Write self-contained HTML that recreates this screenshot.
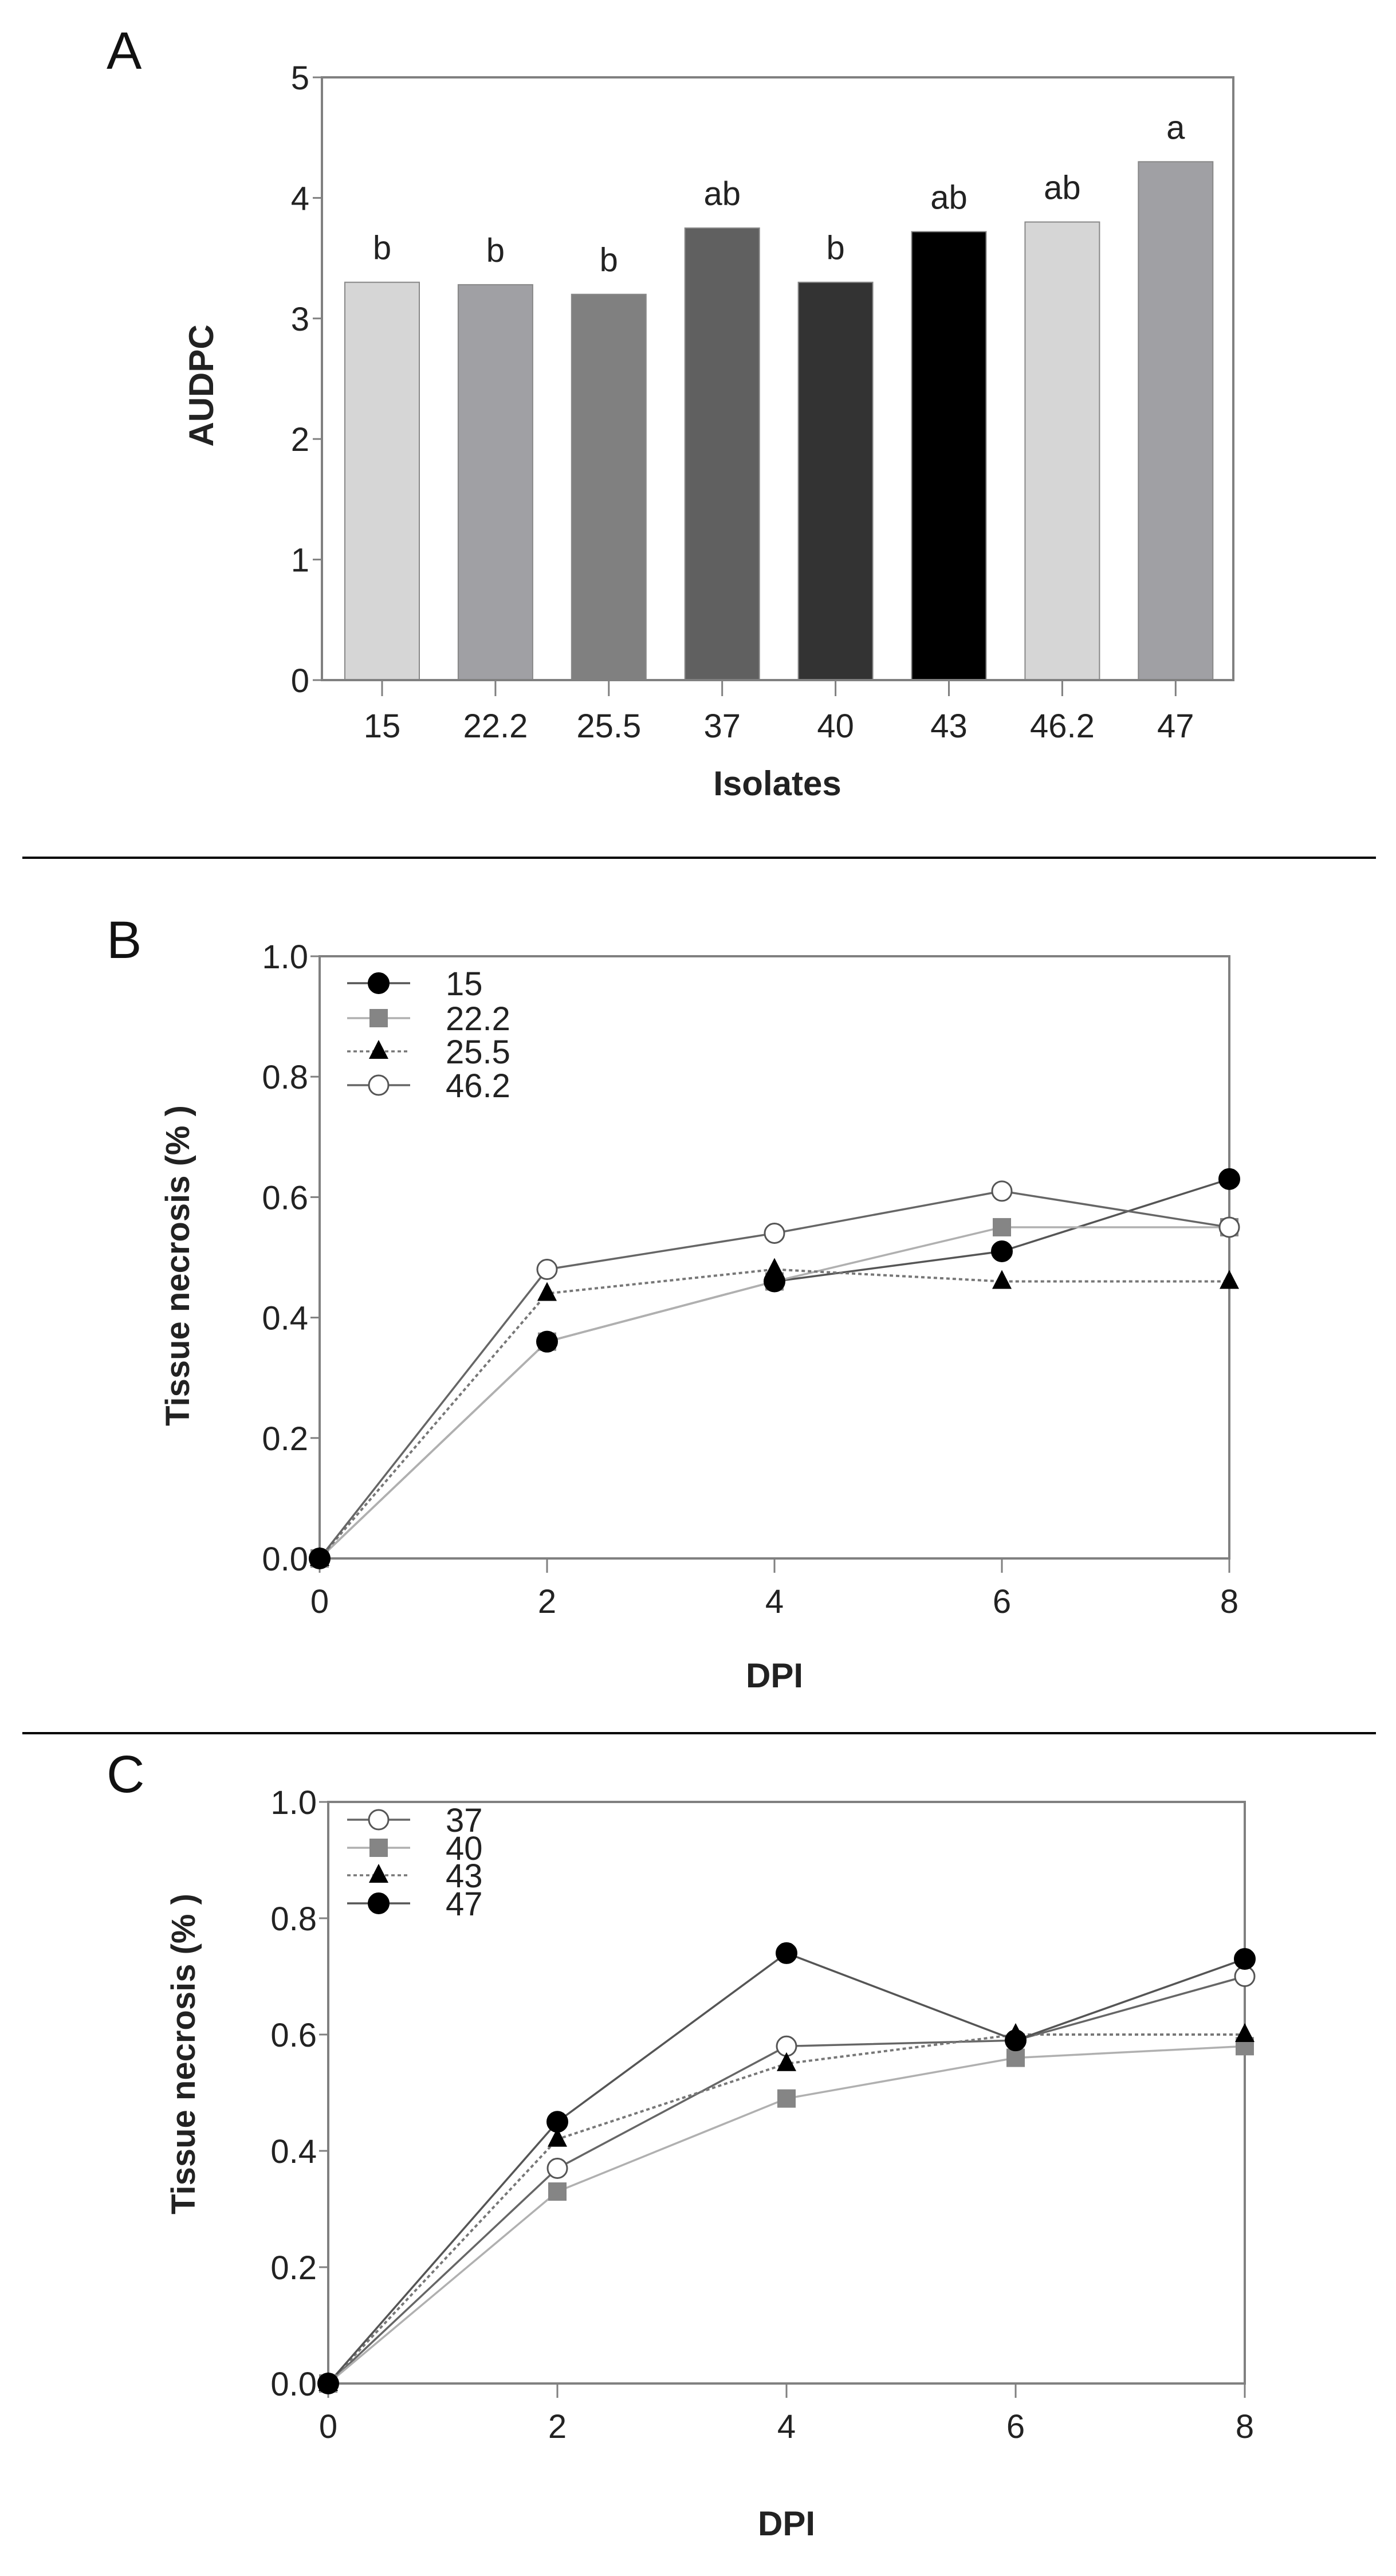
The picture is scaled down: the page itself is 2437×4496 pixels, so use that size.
<!DOCTYPE html>
<html><head><meta charset="utf-8"><style>
html,body{margin:0;padding:0;background:#fff;}
svg{display:block;}
text{font-family:"Liberation Sans Narrow","Liberation Sans",sans-serif;fill:#222;}
.b{font-family:"Liberation Sans",sans-serif;font-weight:bold;}
.pl{font-family:"Liberation Sans",sans-serif;font-size:92px;fill:#111;}
</style></head><body>
<svg id="fig" width="2437" height="4496" viewBox="0 0 2437 4496" xmlns="http://www.w3.org/2000/svg">
<rect width="2437" height="4496" fill="#fff"/>
<line x1="39" y1="1497" x2="2402" y2="1497" stroke="#000" stroke-width="4"/>
<line x1="39" y1="3025" x2="2402" y2="3025" stroke="#000" stroke-width="4"/>
<text class="pl" x="186" y="120">A</text>
<text class="pl" x="186" y="1672">B</text>
<text class="pl" x="186" y="3128">C</text>
<g id="ga"></g>
<g id="gb"></g>
<g id="gc"></g>
</svg>
<script>
// Panel A data
const isolates = ["15","22.2","25.5","37","40","43","46.2","47"];
const audpc = [3.3, 3.28, 3.2, 3.75, 3.3, 3.72, 3.8, 4.3];
const letters = ["b","b","b","ab","b","ab","ab","a"];
const barColors = ["#d6d6d6","#a0a0a4","#808080","#606060","#333333","#000000","#d6d6d6","#a0a0a4"];
const audpcTicks = [0,1,2,3,4,5];
// Panel B data
const dpi = [0,2,4,6,8];
const dpiTicks = [0,2,4,6,8];
const necTicks = [0.0,0.2,0.4,0.6,0.8,1.0];
const bNames = ["15","22.2","25.5","46.2"];
const b15 = [0,0.36,0.46,0.51,0.63];
const b222 = [0,0.36,0.46,0.55,0.55];
const b255 = [0,0.44,0.48,0.46,0.46];
const b462 = [0,0.48,0.54,0.61,0.55];
// Panel C data
const cNames = ["37","40","43","47"];
const c37 = [0,0.37,0.58,0.59,0.70];
const c40 = [0,0.33,0.49,0.56,0.58];
const c43 = [0,0.42,0.55,0.60,0.60];
const c47 = [0,0.45,0.74,0.59,0.73];

const NS="http://www.w3.org/2000/svg";
function mk(parent,tag,attrs,txt){const e=document.createElementNS(NS,tag);for(const k in attrs)e.setAttribute(k,attrs[k]);if(txt!==undefined)e.textContent=txt;parent.appendChild(e);return e;}
const AX="#808080";

// ---- Panel A ----
(function(){
  const g=document.getElementById('ga');
  const L=562,R=2153,T=135,B=1187;
  const y=v=>B-(v/5)*(B-T);
  const x=i=>667+i*197.9;
  const bw=130;
  audpc.forEach((v,i)=>{
    const r=mk(g,'rect',{x:x(i)-bw/2,y:y(v),width:bw,height:B-y(v),fill:barColors[i],stroke:'#888','stroke-width':2});
    
    
    const t=mk(g,'text',{x:x(i),y:y(v)-40,'text-anchor':'middle','font-size':58},letters[i]);
    
    
    const tk=mk(g,'line',{x1:x(i),y1:B,x2:x(i),y2:B+28,stroke:AX,'stroke-width':3});
    
    
    const tl=mk(g,'text',{x:x(i),y:B+100,'text-anchor':'middle','font-size':58},isolates[i]);
    
    
  });
  const fr=mk(g,'path',{d:`M${L},${T} H${R} V${B} H${L} Z`,fill:'none',stroke:AX,'stroke-width':4});
  
  
  audpcTicks.forEach(v=>{
    const tk=mk(g,'line',{x1:L-16,y1:y(v),x2:L,y2:y(v),stroke:AX,'stroke-width':3});
    
    
    const tl=mk(g,'text',{x:L-22,y:y(v)+21,'text-anchor':'end','font-size':58},String(v));
    
    
  });
  const yt=mk(g,'text',{class:'b',x:0,y:0,'text-anchor':'middle','font-size':60,transform:'translate(372,673) rotate(-90)'},'AUDPC');
  
  
  const xt=mk(g,'text',{class:'b',x:1357,y:1388,'text-anchor':'middle','font-size':60},'Isolates');
  
  
})();

function marker(g,type,cx,cy){
  let e;
  if(type==='fc') e=mk(g,'circle',{cx:cx,cy:cy,r:18,fill:'#000',stroke:'#000','stroke-width':2});
  else if(type==='oc') e=mk(g,'circle',{cx:cx,cy:cy,r:17,fill:'#fff',stroke:'#555','stroke-width':3});
  else if(type==='sq') e=mk(g,'rect',{x:cx-16,y:cy-16,width:32,height:32,fill:'#858585'});
  else e=mk(g,'path',{d:`M${cx},${cy-20} L${cx+17},${cy+13} L${cx-17},${cy+13} Z`,fill:'#000'});
  return e;
}

function linePanel(gid,box,names,series,styles,order,legendX,legendRows,titleX,titleY,dpiY){
  const g=document.getElementById(gid);
  const {L,R,T,B}=box;
  const x=v=>L+(v/8)*(R-L);
  const y=v=>B-v*(B-T);
  const fr=mk(g,'path',{d:`M${L},${T} H${R} V${B} H${L} Z`,fill:'none',stroke:AX,'stroke-width':4});
  
  
  necTicks.forEach(v=>{
    const tk=mk(g,'line',{x1:L-16,y1:y(v),x2:L,y2:y(v),stroke:AX,'stroke-width':3});
    
    
    const tl=mk(g,'text',{x:L-20,y:y(v)+21,'text-anchor':'end','font-size':58},v.toFixed(1));
    
    
  });
  dpiTicks.forEach(v=>{
    const tk=mk(g,'line',{x1:x(v),y1:B,x2:x(v),y2:B+25,stroke:AX,'stroke-width':3});
    
    
    const tl=mk(g,'text',{x:x(v),y:B+95,'text-anchor':'middle','font-size':58},String(v));
    
    
  });
  series.forEach((s,k)=>{
    const st=styles[k];
    const d=s.map((v,i)=>(i?'L':'M')+x(dpi[i])+','+y(v)).join(' ');
    const p=mk(g,'path',{d:d,fill:'none',stroke:st.c,'stroke-width':st.dash?4:3.5,'stroke-dasharray':st.dash?'6 5':'none'});
    
    
  });
  order.forEach(k=>{
    series[k].forEach((v,i)=>{
      const m=marker(g,styles[k].m,x(dpi[i]),y(v));
      
      
    });
  });
  names.forEach((n,k)=>{
    const st=styles[k];const ly=legendRows[k];
    const ll=mk(g,'line',{x1:legendX-55,y1:ly,x2:legendX+55,y2:ly,stroke:st.c,'stroke-width':3.5,'stroke-dasharray':st.dash?'6 5':'none'});
    
    
    const lm=marker(g,st.m,legendX,ly);
    
    
    const lt=mk(g,'text',{x:legendX+117,y:ly+21,'font-size':58},n);
    
    
  });
  const yt=mk(g,'text',{class:'b',x:0,y:0,'text-anchor':'middle','font-size':58,transform:`translate(${titleX},${titleY}) rotate(-90)`},'Tissue necrosis (% )');
  
  
  const xt=mk(g,'text',{class:'b',x:(L+R)/2,y:dpiY,'text-anchor':'middle','font-size':60},'DPI');
  
  
}

linePanel('gb',{L:558,R:2146,T:1669,B:2720},bNames,[b15,b222,b255,b462],
  [{m:'fc',c:'#555'},{m:'sq',c:'#b0b0b0'},{m:'tr',c:'#777',dash:true},{m:'oc',c:'#666'}],
  [1,3,0,2],
  661,[1716,1777,1835,1894],330,2209,2945);
linePanel('gc',{L:573,R:2173,T:3145,B:4160},cNames,[c37,c40,c43,c47],
  [{m:'oc',c:'#666'},{m:'sq',c:'#b0b0b0'},{m:'tr',c:'#777',dash:true},{m:'fc',c:'#555'}],
  [1,0,2,3],
  661,[3176,3225,3273,3322],340,3585,4425);
</script>
</body></html>
